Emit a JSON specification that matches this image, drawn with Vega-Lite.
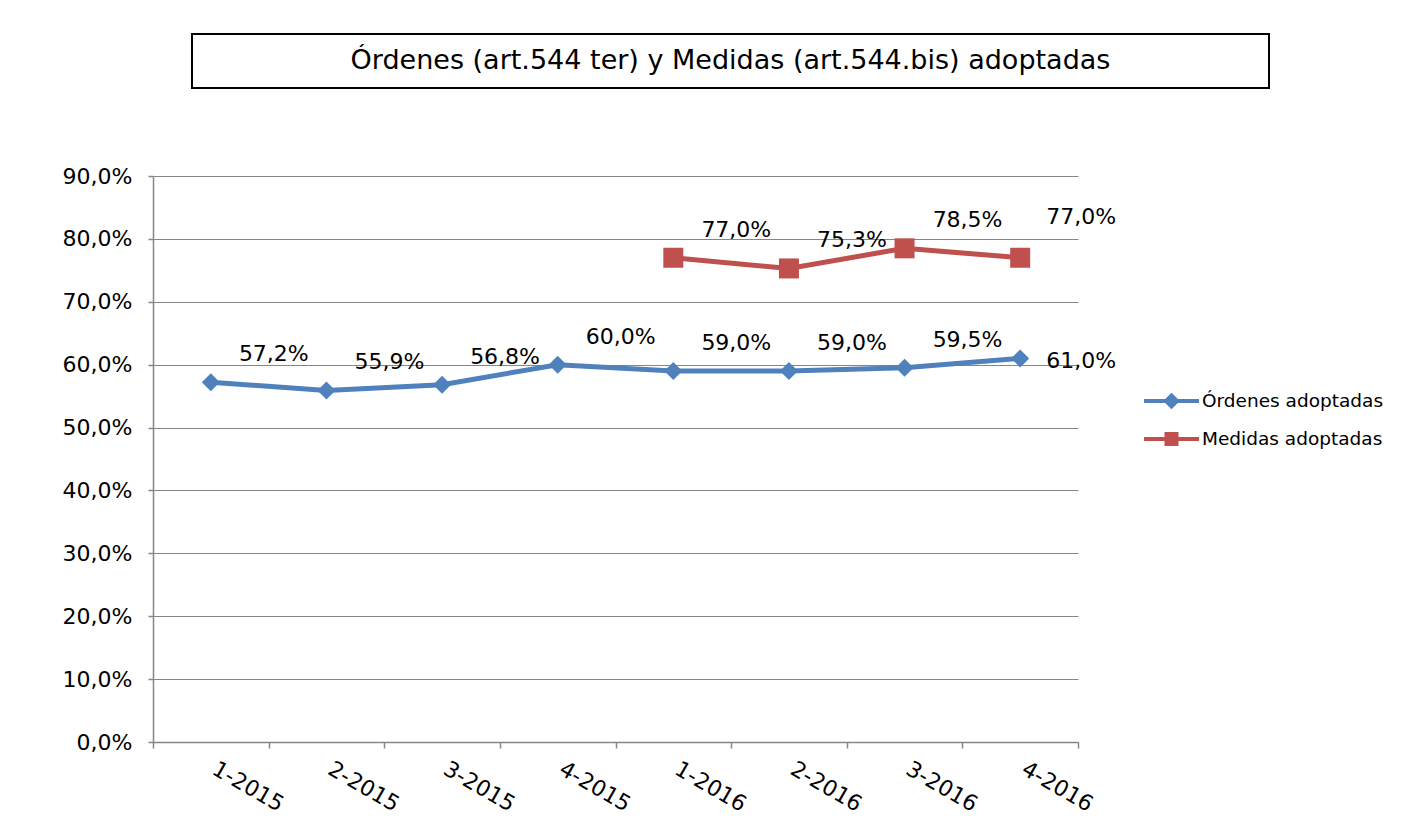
{
  "$schema": "https://vega.github.io/schema/vega-lite/v6.json",
  "padding": {"left": 62, "top": 33, "right": 5, "bottom": 5},
  "background": "white",
  "config": {
    "font": "DejaVu Sans",
    "locale": {"number": {"decimal": ",", "thousands": ".", "grouping": [3], "currency": ["", " €"]}},
    "axis": {"labelFont": "DejaVu Sans", "labelColor": "black", "domainColor": "#868686", "tickColor": "#868686", "gridColor": "#868686", "domainWidth": 1.5, "tickWidth": 1.5, "gridWidth": 1.2}
  },
  "vconcat": [
    {
      "hconcat": [
        {
          "width": 18,
          "height": 54,
          "view": {"stroke": null},
          "data": {"values": []},
          "mark": {"type": "text"},
          "encoding": {}
        },
        {
          "width": 1077,
          "height": 54,
          "view": {"stroke": "black", "strokeWidth": 2, "fill": "white"},
          "data": {"values": [{"titulo": "Órdenes (art.544 ter) y Medidas (art.544.bis) adoptadas"}]},
          "mark": {"type": "text", "fontSize": 27, "font": "DejaVu Sans", "color": "black", "align": "center", "baseline": "middle"},
          "encoding": {"text": {"field": "titulo"}}
        }
      ],
      "spacing": 20
    },
    {
      "width": 925,
      "height": 566,
      "view": {"stroke": null},
      "data": {"values": [
        {"periodo": "1-2015", "serie": "Órdenes adoptadas", "valor": 0.572},
        {"periodo": "2-2015", "serie": "Órdenes adoptadas", "valor": 0.559},
        {"periodo": "3-2015", "serie": "Órdenes adoptadas", "valor": 0.568},
        {"periodo": "4-2015", "serie": "Órdenes adoptadas", "valor": 0.600},
        {"periodo": "1-2016", "serie": "Órdenes adoptadas", "valor": 0.590},
        {"periodo": "2-2016", "serie": "Órdenes adoptadas", "valor": 0.590},
        {"periodo": "3-2016", "serie": "Órdenes adoptadas", "valor": 0.595},
        {"periodo": "4-2016", "serie": "Órdenes adoptadas", "valor": 0.610},
        {"periodo": "1-2016", "serie": "Medidas adoptadas", "valor": 0.770},
        {"periodo": "2-2016", "serie": "Medidas adoptadas", "valor": 0.753},
        {"periodo": "3-2016", "serie": "Medidas adoptadas", "valor": 0.785},
        {"periodo": "4-2016", "serie": "Medidas adoptadas", "valor": 0.770}
      ]},
      "encoding": {
        "x": {
          "field": "periodo", "type": "ordinal",
          "sort": ["1-2015", "2-2015", "3-2015", "4-2015", "1-2016", "2-2016", "3-2016", "4-2016"],
          "scale": {"type": "band", "paddingInner": 0, "paddingOuter": 0},
          "axis": {"title": null, "labelAngle": 30, "labelAlign": "left", "labelBaseline": "top", "labelFontSize": 22, "labelPadding": 10, "labelOffset": 8, "tickBand": "extent", "tickSize": 6, "grid": false, "labelFlush": false}
        },
        "y": {
          "field": "valor", "type": "quantitative",
          "scale": {"domain": [0, 0.9], "nice": false, "zero": true},
          "axis": {"title": null, "format": ".1%", "values": [0, 0.1, 0.2, 0.3, 0.4, 0.5, 0.6, 0.7, 0.8, 0.9], "labelFontSize": 22, "tickSize": 5, "labelPadding": 16, "grid": true}
        }
      },
      "layer": [
        {
          "mark": {"type": "line", "strokeWidth": 5},
          "encoding": {
            "color": {
              "field": "serie", "type": "nominal",
              "scale": {"domain": ["Órdenes adoptadas", "Medidas adoptadas"], "range": ["#4F81BD", "#C0504D"]},
              "legend": {
                "title": null, "orient": "none", "legendX": 989, "legendY": 355,
                "direction": "vertical", "columns": 1,
                "labelFontSize": 18.5, "labelFont": "DejaVu Sans", "labelColor": "black", "labelLimit": 0,
                "symbolSize": 400, "symbolStrokeWidth": 4, "labelOffset": 36, "rowPadding": 11,
                "encode": {"symbols": {"update": {
                  "opacity": {"value": 1},
                  "shape": {"signal": "datum.value === 'Órdenes adoptadas' ? 'M-1,0H4.5M1.75,-0.55L2.3,0L1.75,0.55L1.2,0Z' : 'M-1,0H4.5M1.25,-0.5H2.25V0.5H1.25Z'"},
                  "fill": {"signal": "datum.value === 'Órdenes adoptadas' ? '#4F81BD' : '#C0504D'"},
                  "stroke": {"signal": "datum.value === 'Órdenes adoptadas' ? '#4F81BD' : '#C0504D'"}
                }}}
              }
            }
          }
        },
        {
          "transform": [{"filter": "datum.serie === 'Órdenes adoptadas'"}],
          "mark": {"type": "point", "shape": "diamond", "filled": true, "size": 324, "opacity": 1},
          "encoding": {
            "color": {"field": "serie", "type": "nominal", "legend": null}
          }
        },
        {
          "transform": [{"filter": "datum.serie === 'Medidas adoptadas'"}],
          "mark": {"type": "point", "shape": "square", "filled": true, "size": 400, "opacity": 1},
          "encoding": {
            "color": {"field": "serie", "type": "nominal", "legend": null}
          }
        },
        {
          "transform": [{"filter": "datum.periodo !== '4-2016'"}],
          "mark": {"type": "text", "fontSize": 22, "font": "DejaVu Sans", "color": "black", "dx": 63, "dy": -28, "align": "center", "baseline": "middle"},
          "encoding": {"text": {"field": "valor", "type": "quantitative", "format": ".1%"}}
        },
        {
          "transform": [{"filter": "datum.periodo === '4-2016' && datum.serie === 'Órdenes adoptadas'"}],
          "mark": {"type": "text", "fontSize": 22, "font": "DejaVu Sans", "color": "black", "dx": 61, "dy": 3, "align": "center", "baseline": "middle"},
          "encoding": {"text": {"field": "valor", "type": "quantitative", "format": ".1%"}}
        },
        {
          "transform": [{"filter": "datum.periodo === '4-2016' && datum.serie === 'Medidas adoptadas'"}],
          "mark": {"type": "text", "fontSize": 22, "font": "DejaVu Sans", "color": "black", "dx": 61, "dy": -41, "align": "center", "baseline": "middle"},
          "encoding": {"text": {"field": "valor", "type": "quantitative", "format": ".1%"}}
        }
      ]
    }
  ],
  "spacing": 76
}
